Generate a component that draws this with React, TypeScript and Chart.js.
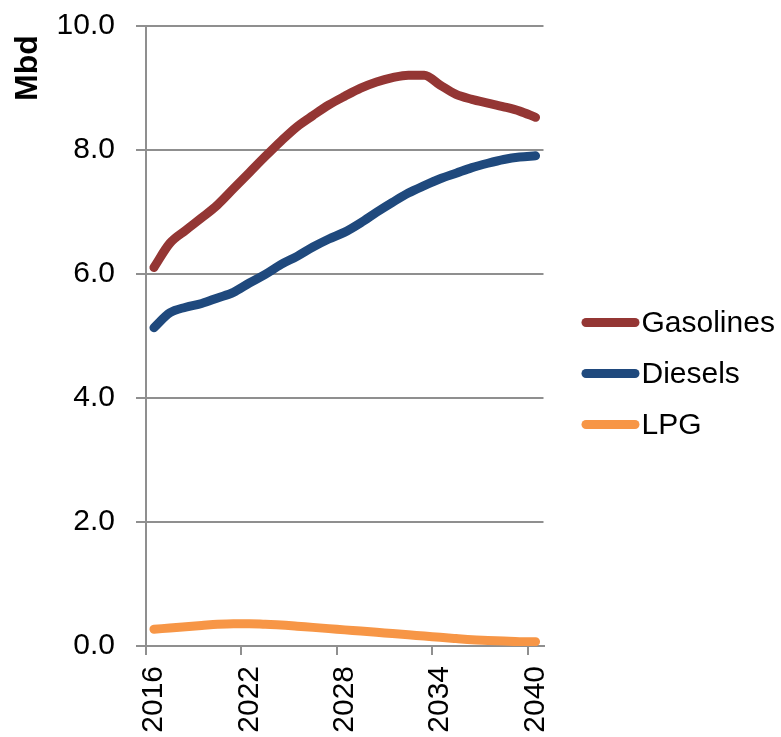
import React, { useEffect, useRef } from "react";
import { Chart, registerables } from "chart.js";

Chart.register(...registerables);

const years = [
  "2016", "2017", "2018", "2019", "2020", "2021", "2022", "2023", "2024", "2025",
  "2026", "2027", "2028", "2029", "2030", "2031", "2032", "2033", "2034", "2035",
  "2036", "2037", "2038", "2039", "2040",
];
const gasolines = [
  6.10, 6.49, 6.70, 6.90, 7.11, 7.37, 7.63, 7.89, 8.14, 8.37,
  8.55, 8.72, 8.86, 8.99, 9.09, 9.16, 9.20, 9.20, 9.04, 8.89,
  8.81, 8.75, 8.69, 8.62, 8.52,
];
const diesels = [
  5.13, 5.37, 5.46, 5.52, 5.61, 5.70, 5.85, 5.99, 6.15, 6.28,
  6.43, 6.56, 6.67, 6.82, 6.99, 7.15, 7.30, 7.42, 7.53, 7.62,
  7.71, 7.78, 7.84, 7.88, 7.90,
];
const lpg = [
  0.27, 0.29, 0.31, 0.33, 0.35, 0.36, 0.36, 0.35, 0.34, 0.32,
  0.30, 0.28, 0.26, 0.24, 0.22, 0.20, 0.18, 0.16, 0.14, 0.12,
  0.10, 0.09, 0.08, 0.07, 0.07,
];
const seriesNames = ["Gasolines", "Diesels", "LPG"];
const seriesColors = ["#943634", "#1F497D", "#F79646"];
const yTitle = "Mbd";

const FONT = "'Liberation Sans', Arial, sans-serif";
const GRID = "#8f8f8f";

const overlayPlugin = {
  id: "overlay",
  afterDraw(chart: any) {
    const ctx = chart.ctx;
    const area = chart.chartArea;
    ctx.save();
    ctx.translate(28, 68);
    ctx.rotate(-Math.PI / 2);
    ctx.font = `bold 32px ${FONT}`;
    ctx.fillStyle = "#000";
    ctx.textAlign = "center";
    ctx.textBaseline = "middle";
    ctx.fillText(yTitle, 0, 0);
    ctx.restore();

    ctx.save();
    const x0 = area.right + 38;
    const lineLen = 58;
    const startY = 322.5;
    const gap = 51;
    chart.data.datasets.forEach((ds: any, i: number) => {
      const y = startY + i * gap;
      ctx.strokeStyle = ds.borderColor;
      ctx.lineWidth = 9;
      ctx.lineCap = "round";
      ctx.beginPath();
      ctx.moveTo(x0 + 4.5, y);
      ctx.lineTo(x0 + lineLen - 4.5, y);
      ctx.stroke();
      ctx.font = `30px ${FONT}`;
      ctx.fillStyle = "#000";
      ctx.textAlign = "left";
      ctx.textBaseline = "middle";
      ctx.fillText(ds.label, x0 + lineLen + 2, y + 1);
    });
    ctx.restore();
  },
};

export default function App() {
  const ref = useRef<HTMLCanvasElement | null>(null);
  useEffect(() => {
    if (!ref.current) return;
    const values = [gasolines, diesels, lpg];
    const chart = new Chart(ref.current, {
      type: "line",
      data: {
        labels: years,
        datasets: values.map((v, i) => ({
          label: seriesNames[i],
          data: v,
          borderColor: seriesColors[i],
          backgroundColor: seriesColors[i],
          borderWidth: 9,
          pointRadius: 0,
          cubicInterpolationMode: "monotone" as const,
          borderCapStyle: "round" as const,
          borderJoinStyle: "round" as const,
          fill: false,
        })),
      },
      options: {
        responsive: false,
        animation: false,
        devicePixelRatio: 1,
        layout: { padding: { top: 25.5, right: 237.5, left: 0, bottom: 0 } },
        plugins: { legend: { display: false }, tooltip: { enabled: false } },
        scales: {
          x: {
            type: "category",
            offset: true,
            grid: {
              offset: true,
              drawOnChartArea: false,
              drawTicks: true,
              tickLength: 9,
              lineWidth: 2,
              color: (c: any) => (c.index % 6 === 0 ? GRID : "rgba(0,0,0,0)"),
            },
            border: { display: true, color: GRID, width: 2 },
            ticks: {
              autoSkip: false,
              maxRotation: 90,
              minRotation: 90,
              padding: 11,
              color: "#000",
              font: { family: FONT, size: 30 },
              callback: (_v: any, idx: number) => (idx % 6 === 0 ? years[idx] : ""),
            },
            afterFit: (s: any) => {
              s.height = 91;
              s.paddingLeft = 0;
              s.paddingRight = 0;
            },
          },
          y: {
            min: 0,
            max: 10,
            grid: {
              color: GRID,
              lineWidth: 2,
              drawTicks: true,
              tickLength: 10,
            },
            border: { display: true, color: GRID, width: 2 },
            ticks: {
              stepSize: 2,
              padding: 21,
              color: "#000",
              font: { family: FONT, size: 30 },
              callback: (v: any) => Number(v).toFixed(1),
            },
            afterFit: (s: any) => {
              s.width = 146;
              s.paddingTop = 0;
              s.paddingBottom = 0;
            },
          },
        },
      },
      plugins: [overlayPlugin],
    });
    return () => chart.destroy();
  }, []);
  return (
    <div style={{ position: "fixed", left: 0, top: 0, width: 781, height: 737, background: "#fff" }}>
      <canvas ref={ref} width={781} height={737} style={{ width: 781, height: 737 }} />
    </div>
  );
}
